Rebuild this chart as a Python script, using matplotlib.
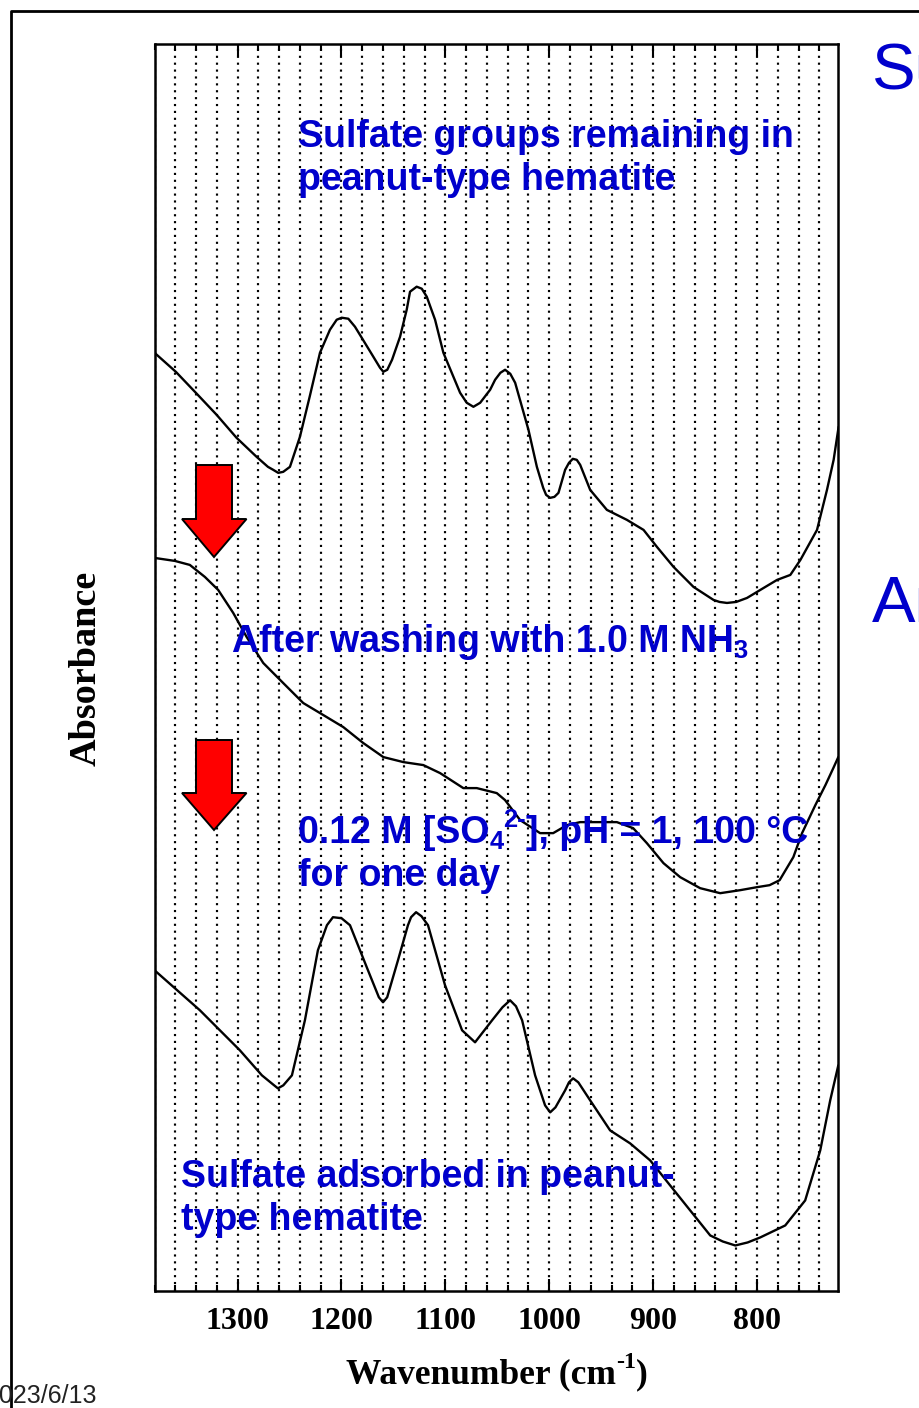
import matplotlib
matplotlib.use("Agg")
import matplotlib.pyplot as plt
from matplotlib.patches import Polygon
from matplotlib.lines import Line2D
from matplotlib.ticker import MultipleLocator

# ---- spectra (wavenumber in cm^-1, absorbance in arbitrary offset units) ----
wn_remaining = [1380, 1359.5, 1340.2, 1320.2, 1301.0, 1281.7, 1270.8, 1265.7, 1260.9, 1256.1,
                1249.6, 1240.0, 1230.4, 1220.7, 1211.1, 1204.6, 1199.8, 1193.4, 1187.0, 1180.5,
                1170.5, 1162.9, 1159.7, 1155.9, 1151.3, 1143.6, 1137.2, 1134.0, 1127.6, 1122.7,
                1117.9, 1109.9, 1101.9, 1085.8, 1079.4, 1073.0, 1066.5, 1056.9, 1052.1, 1047.0,
                1042.5, 1037.5, 1032.8, 1020.0, 1011.9, 1005.8, 1003.0, 999.1, 995.0, 991.1,
                984.7, 981.0, 977.3, 973.5, 970.2, 960.6, 944.5, 925.2, 909.2, 896.3,
                880.3, 861.1, 841.8, 836.0, 828.9, 820.0, 809.6, 793.6, 780.7, 767.9,
                758.2, 742.2, 732.6, 726.2, 721.4]
abs_remaining = [0.937, 0.918, 0.897, 0.875, 0.852, 0.833, 0.823, 0.820, 0.817, 0.818,
                 0.823, 0.853, 0.894, 0.937, 0.960, 0.970, 0.972, 0.971, 0.963, 0.952,
                 0.935, 0.922, 0.918, 0.920, 0.930, 0.953, 0.980, 0.998, 1.003, 1.001,
                 0.993, 0.970, 0.937, 0.897, 0.887, 0.883, 0.887, 0.900, 0.910, 0.917,
                 0.920, 0.916, 0.907, 0.860, 0.823, 0.802, 0.795, 0.792, 0.793, 0.797,
                 0.820, 0.827, 0.831, 0.830, 0.825, 0.800, 0.780, 0.770, 0.760, 0.743,
                 0.723, 0.703, 0.690, 0.688, 0.687, 0.688, 0.692, 0.702, 0.710, 0.715,
                 0.730, 0.760, 0.800, 0.830, 0.863]

wn_washed = [1380, 1360.4, 1346.0, 1331.5, 1318.7, 1304.2, 1291.3, 1275.3, 1256.1, 1236.8,
             1217.5, 1198.3, 1179.0, 1159.7, 1140.5, 1121.2, 1105.1, 1082.7, 1069.8, 1050.5,
             1042.5, 1028.0, 1008.8, 996.2, 983.0, 970.2, 950.9, 934.9, 919.2, 906.0,
             890.0, 873.9, 854.7, 835.4, 816.2, 800.0, 787.9, 778.2, 765.0, 756.6,
             743.8, 734.1, 726.5, 721.7]
abs_washed = [0.732, 0.729, 0.725, 0.713, 0.700, 0.677, 0.653, 0.627, 0.607, 0.587,
              0.575, 0.563, 0.547, 0.533, 0.528, 0.525, 0.517, 0.502, 0.502, 0.497,
              0.490, 0.470, 0.457, 0.457, 0.465, 0.468, 0.468, 0.468, 0.462, 0.447,
              0.427, 0.413, 0.402, 0.397, 0.400, 0.403, 0.405, 0.410, 0.433, 0.457,
              0.485, 0.505, 0.522, 0.533]

wn_adsorbed = [1380, 1336.3, 1297.8, 1276.6, 1266.0, 1261.2, 1256.0, 1247.7, 1235.2, 1222.7,
               1214.0, 1208.2, 1200.0, 1191.8, 1174.5, 1164.0, 1160.0, 1156.0, 1145.6, 1136.0,
               1133.0, 1128.2, 1123.0, 1116.7, 1100.3, 1083.9, 1071.4, 1055.0, 1045.0, 1037.7,
               1032.0, 1026.1, 1013.6, 1004.0, 999.1, 994.0, 984.7, 981.0, 977.0, 972.0,
               960.6, 941.4, 922.1, 902.8, 883.6, 864.3, 845.0, 833.0, 820.9, 809.0,
               796.9, 772.8, 753.6, 739.1, 729.5, 721.7]
abs_adsorbed = [0.320, 0.280, 0.240, 0.215, 0.206, 0.202, 0.205, 0.215, 0.270, 0.340,
                0.365, 0.373, 0.372, 0.365, 0.320, 0.293, 0.288, 0.293, 0.330, 0.365,
                0.373, 0.378, 0.374, 0.365, 0.305, 0.260, 0.248, 0.270, 0.283, 0.290,
                0.284, 0.270, 0.215, 0.185, 0.178, 0.183, 0.200, 0.208, 0.212, 0.208,
                0.190, 0.160, 0.147, 0.130, 0.105, 0.080, 0.055, 0.049, 0.045, 0.048,
                0.053, 0.065, 0.090, 0.140, 0.190, 0.225]

xticks_major = [1300, 1200, 1100, 1000, 900, 800]

W, H = 919, 1408
BLUE = "#0000CC"


def fx(px):
    return px / W


def fy(py):
    return 1 - py / H


fig = plt.figure(figsize=(W / 100, H / 100), dpi=100)
fig.patch.set_facecolor("white")
renderer = fig.canvas.get_renderer()

ax = fig.add_axes([fx(154.5), fy(1290.5), (838 - 154.5) / W, (1290.5 - 43.5) / H])
ax.set_xlim(1380, 722)
ax.set_ylim(0, 1.246)

for wn, ab in [(wn_remaining, abs_remaining), (wn_washed, abs_washed), (wn_adsorbed, abs_adsorbed)]:
    ax.plot(wn, ab, color="black", lw=1.7, zorder=3,
            solid_joinstyle="round", solid_capstyle="round")

ax.xaxis.set_major_locator(MultipleLocator(100))
ax.xaxis.set_minor_locator(MultipleLocator(20))
ax.set_xticks(xticks_major)
ax.set_xticklabels([str(t) for t in xticks_major],
                   fontfamily="Liberation Serif", fontweight="bold", fontsize=23)
ax.set_yticks([])
ax.tick_params(axis="x", which="both", direction="in", top=True, bottom=True, width=1.5, pad=12)
ax.tick_params(axis="x", which="major", length=8.5)
ax.tick_params(axis="x", which="minor", length=4.3)
ax.grid(True, axis="x", which="both", color="black", linestyle=(0, (1, 2.2)), linewidth=1.55)
ax.set_axisbelow(True)
for s in ax.spines.values():
    s.set_linewidth(1.8)


def rich_text(x_px, y_px, parts, size, ha="left", **kw):
    """Write text pieces in a row; pieces may be 'sub' or 'sup' scripts."""
    fs_px = size * 100 / 72
    specs = []
    for s, kind in parts:
        fsz = size * (0.68 if kind != "n" else 1.0)
        dy = {"n": 0, "sub": 0.16 * fs_px, "sup": -0.42 * fs_px}[kind]
        t = fig.text(0, 0, s, fontsize=fsz, ha="left", va="baseline", **kw)
        w = t.get_window_extent(renderer).width
        specs.append((t, w, dy))
    total = sum(w for _, w, _ in specs)
    x = x_px - (total / 2 if ha == "center" else 0)
    for t, w, dy in specs:
        t.set_position((fx(x), fy(y_px + dy)))
        x += w


# axis titles
rich_text(497, 1383, [("Wavenumber (cm", "n"), ("-1", "sup"), (")", "n")], 25.5, ha="center",
          fontfamily="Liberation Serif", fontweight="bold", color="black")
fig.text(fx(86), fy(668), "Absorbance", ha="center", va="center", rotation=90,
         fontfamily="Liberation Serif", fontweight="bold", fontsize=27.5)

# annotations
akw = dict(color=BLUE, fontfamily="Liberation Sans", fontweight="bold", zorder=5)
AS = 27
rich_text(298, 147, [("Sulfate groups remaining in", "n")], AS, **akw)
rich_text(298, 190, [("peanut-type hematite", "n")], AS, **akw)
rich_text(232, 652, [("After washing with 1.0 M NH", "n"), ("3", "sub")], AS, **akw)
rich_text(298, 843, [("0.12 M [SO", "n"), ("4", "sub"), ("2-", "sup"),
                     ("], pH = 1, 100 °C", "n")], AS, **akw)
rich_text(298, 886, [("for one day", "n")], AS, **akw)
rich_text(181, 1187, [("Sulfate adsorbed in peanut-", "n")], AS, **akw)
rich_text(181, 1230, [("type hematite", "n")], AS, **akw)


# red arrows pointing down
def down_arrow(top, base, tip):
    pts = [(196, top), (232, top), (232, base), (246.5, base), (214, tip),
           (182, base), (196, base)]
    poly = Polygon([(fx(x), fy(y)) for x, y in pts], closed=True, transform=fig.transFigure,
                   facecolor="#FF0000", edgecolor="black", linewidth=1.4, zorder=6)
    fig.add_artist(poly)


down_arrow(465, 519, 557)
down_arrow(740, 793, 830)

# slide frame and neighbouring slide content
fig.add_artist(Line2D([fx(10.5), fx(10.5), fx(W + 5)], [fy(H + 5), fy(10.5), fy(10.5)],
                      transform=fig.transFigure, color="black", lw=2.0))
fig.text(fx(872), fy(90), "Su", color=BLUE, fontfamily="Liberation Sans", fontsize=47,
         ha="left", va="baseline")
fig.text(fx(872), fy(622), "Ar", color=BLUE, fontfamily="Liberation Sans", fontsize=47,
         ha="left", va="baseline")
fig.text(fx(-14), fy(1403), "2023/6/13", color="#222222", fontfamily="Liberation Sans",
         fontsize=18, ha="left", va="baseline")

fig.savefig("out.png", dpi=100, facecolor="white")
